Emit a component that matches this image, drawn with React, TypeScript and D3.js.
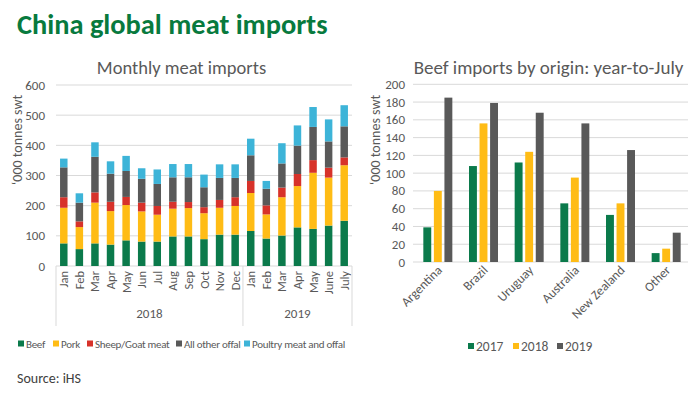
import * as d3 from 'd3';
import React from 'react';

// Monthly meat imports, '000 tonnes swt (Jan 2018 - July 2019)
const months = ['Jan', 'Feb', 'Mar', 'Apr', 'May', 'Jun', 'Jul', 'Aug', 'Sep', 'Oct', 'Nov', 'Dec',
  'Jan', 'Feb', 'Mar', 'Apr', 'May', 'June', 'July'];
const yearLabels = ['2018', '2019'];
const monthsPerYear = [12, 7];

const beef = [75, 56, 75, 71, 85, 81, 81, 98, 98, 89, 104, 104, 116, 91, 101, 128, 123, 134, 150];
const pork = [118, 73, 135, 111, 117, 100, 89, 92, 94, 86, 89, 95, 126, 80, 127, 137, 186, 159, 184];
const sheepGoat = [35, 19, 34, 31, 27, 29, 29, 23, 20, 20, 26, 29, 40, 30, 32, 40, 42, 33, 26];
const otherOffal = [99, 62, 118, 93, 86, 79, 73, 81, 82, 66, 73, 64, 85, 55, 80, 94, 110, 87, 103];
const poultry = [29, 31, 48, 41, 50, 35, 48, 44, 44, 42, 45, 45, 55, 26, 67, 67, 66, 73, 70];

const meatSeries = ['Beef', 'Pork', 'Sheep/Goat meat', 'All other offal', 'Poultry meat and offal'];
const meatColors = ['#0b7a4b', '#ffbc15', '#d7322a', '#595959', '#3db4d8'];

// Beef imports by origin, year-to-July
const origins = ['Argentina', 'Brazil', 'Uruguay', 'Australia', 'New Zealand', 'Other'];
const beef2017 = [39, 108, 112, 66, 53, 10];
const beef2018 = [80, 156, 124, 95, 66, 15];
const beef2019 = [185, 179, 168, 156, 126, 33];
const yearKeys = ['2017', '2018', '2019'];
const yearColors = ['#0b7a4b', '#ffbc15', '#595959'];

const FONT = 'Calibri, Carlito, Lato, sans-serif';
const TXT = '#595959';
const GRID = '#d9d9d9';

const MonthlyChart = () => {
  const left = 56, right = 352, top = 85, bottom = 266;
  const x = d3.scaleBand<number>().domain(months.map((_, i) => i)).range([left, right]).paddingInner(0.52).paddingOuter(0.26);
  const y = d3.scaleLinear().domain([0, 600]).range([bottom, top]);

  const rows = months.map((_, i) => ({
    i, Beef: beef[i], Pork: pork[i], 'Sheep/Goat meat': sheepGoat[i],
    'All other offal': otherOffal[i], 'Poultry meat and offal': poultry[i],
  }));
  const stacked = d3.stack<any>().keys(meatSeries)(rows);
  const step = x.step();

  // year group boundaries
  const bounds: number[] = [0];
  monthsPerYear.forEach((n) => bounds.push(bounds[bounds.length - 1] + n));

  return (
    <g fontFamily={FONT}>
      <text x={181.5} y={73.5} textAnchor="middle" fontSize={18.5} fill={TXT}>Monthly meat imports</text>
      {y.ticks(6).map((t) => (
        <g key={t}>
          <line x1={left} x2={right} y1={y(t)} y2={y(t)} stroke={GRID} />
          <text x={45} y={y(t) + 4.5} textAnchor="end" fontSize={13} fill={TXT}>{t}</text>
        </g>
      ))}
      <text transform={`translate(22,140) rotate(-90)`} textAnchor="middle" fontSize={14} fill={TXT}>‘000 tonnes swt</text>
      {stacked.map((s, k) => (
        <g key={s.key} fill={meatColors[k]}>
          {s.map((d, i) => (
            <rect key={i} x={x(i)} width={x.bandwidth()} y={y(d[1])} height={y(d[0]) - y(d[1])} />
          ))}
        </g>
      ))}
      {months.map((m, i) => (
        <text key={i} transform={`translate(${x(i)! + x.bandwidth() / 2 + 4.5},271) rotate(-90)`}
          textAnchor="end" fontSize={12.5} fill={TXT}>{m}</text>
      ))}
      {bounds.map((b, k) => (
        <line key={k} x1={left + b * step} x2={left + b * step} y1={bottom} y2={326} stroke={GRID} />
      ))}
      {yearLabels.map((yl, k) => (
        <text key={yl} x={left + ((bounds[k] + bounds[k + 1]) / 2) * step} y={318}
          textAnchor="middle" fontSize={13} fill={TXT}>{yl}</text>
      ))}
    </g>
  );
};

const OriginChart = () => {
  const left = 415, right = 689, top = 84.3, bottom = 262;
  const x0 = d3.scaleBand<string>().domain(origins).range([left, right]);
  const x1 = d3.scaleBand<string>().domain(yearKeys).range([0, 29]).paddingInner(0.25);
  const y = d3.scaleLinear().domain([0, 200]).range([bottom, top]);
  const values = [beef2017, beef2018, beef2019];

  return (
    <g fontFamily={FONT}>
      <text x={548.5} y={73.5} textAnchor="middle" fontSize={19} fill={TXT}>Beef imports by origin: year-to-July</text>
      {y.ticks(10).map((t) => (
        <g key={t}>
          <line x1={413} x2={688} y1={y(t)} y2={y(t)} stroke={GRID} />
          <text x={405} y={y(t) + 4.5} textAnchor="end" fontSize={13} fill={TXT}>{t}</text>
        </g>
      ))}
      <text transform={`translate(380,140) rotate(-90)`} textAnchor="middle" fontSize={14} fill={TXT}>‘000 tonnes swt</text>
      {origins.map((o, i) => {
        const cx = x0(o)! + x0.bandwidth() / 2;
        return (
          <g key={o}>
            {yearKeys.map((k, j) => (
              <rect key={k} x={cx - 14.5 + x1(k)!} width={x1.bandwidth()} y={y(values[j][i])}
                height={bottom - y(values[j][i])} fill={yearColors[j]} />
            ))}
            <text transform={`translate(${cx + 5},271) rotate(-45)`} textAnchor="end" fontSize={13} fill={TXT}>{o}</text>
          </g>
        );
      })}
    </g>
  );
};

const MeatLegend = () => {
  const xs = [18, 53, 87, 176, 244];
  return (
    <g fontFamily={FONT} fontSize={11} letterSpacing={-0.3} fill={TXT}>
      {meatSeries.map((s, i) => (
        <g key={s}>
          <rect x={xs[i]} y={340.5} width={6} height={6} fill={meatColors[i]} />
          <text x={xs[i] + 8} y={347.5}>{s}</text>
        </g>
      ))}
    </g>
  );
};

const YearLegend = () => {
  const xs = [468, 513, 557];
  return (
    <g fontFamily={FONT} fontSize={13.5} fill={TXT}>
      {yearKeys.map((k, i) => (
        <g key={k}>
          <rect x={xs[i]} y={343} width={6} height={6} fill={yearColors[i]} />
          <text x={xs[i] + 8} y={350.5}>{k}</text>
        </g>
      ))}
    </g>
  );
};

export default function App() {
  return (
    <svg width={700} height={393} style={{ position: 'absolute', left: 0, top: 0, background: '#fff' }}>
      <rect width={700} height={393} fill="#fff" />
      <text x={17} y={34} fontFamily={FONT} fontWeight="bold" fontSize={28.4} fill="#087a3e">China global meat imports</text>
      <MonthlyChart />
      <OriginChart />
      <MeatLegend />
      <YearLegend />
      <text x={17} y={383} fontFamily={FONT} fontSize={14} fill="#404040">Source: iHS</text>
    </svg>
  );
}
